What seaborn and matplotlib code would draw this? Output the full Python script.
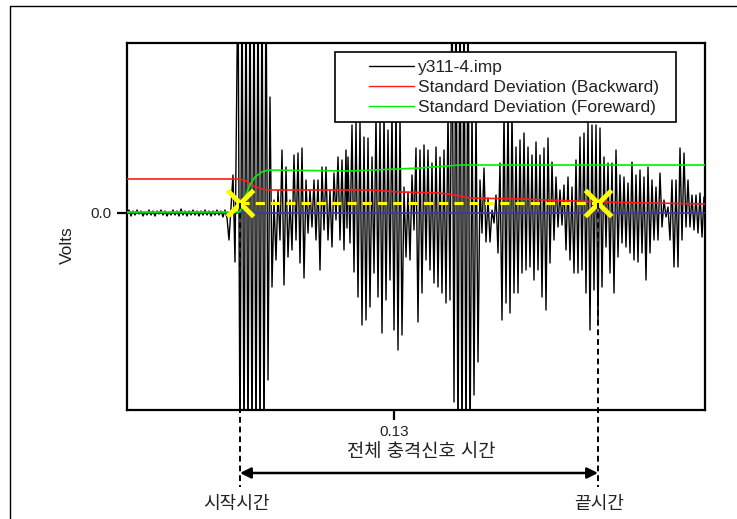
import matplotlib
matplotlib.use("Agg")
import numpy as np
import pandas as pd
import matplotlib.pyplot as plt
import seaborn as sns
from matplotlib.lines import Line2D
from matplotlib.patches import Rectangle

# ---------------- data ----------------
FS = 10000.0  # samples per second

signal_samples = [
    1033, 1035, 1037, 1039, 1041, 1043, 1045, 1047, 1049, 1051,
    1053, 1055, 1057, 1059, 1061, 1063, 1065, 1067, 1069, 1071,
    1073, 1075, 1077, 1079, 1081, 1083, 1085, 1087, 1089, 1091,
    1093, 1095, 1097, 1099, 1101, 1103, 1105, 1107, 1109, 1111,
    1113, 1115, 1117, 1119, 1121, 1123, 1125, 1127, 1129, 1131,
    1133,
    1135, 1137, 1139, 1141,
    1144, 1146, 1148, 1150, 1152, 1154, 1156, 1158, 1160, 1162,
    1164, 1166, 1168, 1170, 1172, 1174, 1176, 1178, 1180, 1182,
    1184, 1186, 1188, 1190, 1192, 1194, 1196, 1198, 1200, 1202,
    1204, 1206, 1208, 1210, 1212, 1214, 1216, 1218, 1220, 1222,
    1224, 1226, 1228, 1230, 1232, 1234, 1236, 1238, 1240, 1242,
    1244, 1246, 1248, 1250, 1252,
    1253,
    1254, 1256, 1258, 1260, 1262, 1264, 1266, 1268, 1270, 1272,
    1274, 1276, 1278, 1280, 1282, 1284, 1286, 1288, 1290, 1292,
    1294, 1296, 1298, 1300, 1302, 1304, 1306, 1308, 1310, 1312,
    1314, 1316, 1318, 1320, 1322, 1324, 1326, 1328, 1330, 1332,
    1334, 1336, 1338, 1340, 1342, 1344, 1346, 1348, 1350, 1352,
    1354, 1356, 1358, 1360, 1362, 1364, 1366, 1368, 1370, 1372,
    1374, 1376, 1378, 1380, 1382, 1384, 1386, 1388, 1390, 1392,
    1394, 1396, 1398, 1400, 1402, 1404, 1406, 1408, 1410, 1412,
    1414, 1416, 1418, 1420, 1422, 1424, 1426, 1428, 1430, 1432,
    1434, 1436, 1438, 1440, 1442, 1444, 1446, 1448, 1450, 1452,
    1454, 1456, 1458, 1460, 1462, 1464, 1466, 1468, 1470, 1472,
    1474, 1476, 1478, 1480, 1482, 1484, 1486, 1488, 1490, 1492,
    1494, 1496, 1498, 1500, 1502, 1504, 1506, 1508, 1510, 1512,
    1514, 1516, 1518, 1520, 1522, 1524, 1526, 1528, 1530, 1532,
    1534, 1536, 1538, 1540, 1542, 1544, 1546, 1548, 1550, 1552,
    1554, 1556, 1558, 1560, 1562, 1564, 1566, 1568, 1570, 1572,
    1574, 1576, 1578, 1580, 1582, 1584, 1586, 1588, 1590, 1592,
    1594, 1596, 1598, 1600, 1602, 1604, 1606, 1608, 1610,
    1611,
]

signal_volts = [
    0.00, 0.03, -0.03, 0.02, -0.02, 0.03, -0.01, 0.02, -0.03, 0.01,
    -0.02, 0.03, -0.02, 0.02, -0.03, 0.02, -0.01, 0.03, -0.02, 0.02,
    -0.03, 0.01, -0.02, 0.03, -0.02, 0.02, -0.03, 0.04, -0.02, 0.02,
    -0.03, 0.02, -0.02, 0.03, -0.02, 0.02, -0.03, 0.02, -0.02, 0.03,
    -0.02, 0.02, -0.03, 0.02, -0.02, 0.03, -0.02, 0.02, -0.04, 0.03,
    -0.05,
    -0.27, 0.05, 0.38, -0.49,
    2.5, -2.5, 2.5, -2.5, 2.5, -2.5, 2.5, -2.5, 2.5, -2.5,
    2.5, -2.5, 2.5, -2.5, 2.5, -1.67, 1.16, -0.74, 0.13, -0.47,
    0.23, -0.27, 0.63, -0.72, 0.46, -0.44, 0.13, -0.37, 0.58, -0.27,
    0.60, -0.50, 0.65, -0.65, 0.33, -0.20, 0.23, -0.14, 0.33, -0.27,
    0.33, -0.57, 0.46, -0.17, 0.46, -0.27, 0.23, -0.34, 0.40, -0.07,
    0.56, -0.27, 0.53, -0.37, 0.63,
    -0.15,
    0.56, -0.30, 0.88, -0.59, 0.91, -0.84, 0.93, -1.12, 0.76, -1.07,
    0.75, -0.94, 0.56, -0.60, 0.98, -0.84, 0.93, -1.20, 1.03, -0.87,
    0.83, -0.67, 1.03, -1.17, 1.13, -1.37, 0.98, -1.22, 0.26, -0.44,
    0.21, -0.47, 0.38, -0.17, 0.65, -1.09, 0.63, -0.80, 0.68, -0.47,
    0.63, -0.57, 0.50, -0.70, 0.66, -0.74, 0.56, -0.80, 0.63, -0.90,
    1.03, -0.87, 2.5, -1.89, 2.5, -2.5, 2.5, -2.5, 2.5, -2.5,
    2.5, -2.5, 1.13, -1.82, 1.08, -1.49, 0.33, -0.20, 0.45, -0.29,
    0.15, -0.29, 0.03, -0.10, 0.18, -0.40, 0.50, -1.07, 1.03, -0.90,
    1.08, -1.00, 1.03, -0.80, 0.66, -0.80, 0.73, -0.60, 0.80, -0.57,
    0.66, -0.54, 0.58, -0.67, 0.71, -0.57, 0.58, -0.84, 0.65, -0.97,
    0.75, -0.50, 0.51, -0.27, 0.36, -0.14, 0.23, -0.12, 0.28, -0.37,
    0.36, -0.47, 0.26, -0.60, 0.53, -0.60, 0.76, -0.57, 0.80, -0.80,
    0.91, -1.17, 0.88, -0.77, 0.88, -1.12, 0.85, -0.74, 0.56, -0.34,
    0.50, -0.60, 0.50, -0.80, 0.63, -0.44, 0.38, -0.30, 0.36, -0.34,
    0.30, -0.40, 0.51, -0.47, 0.38, -0.49, 0.43, -0.40, 0.36, -0.67,
    0.46, -0.40, 0.33, -0.27, 0.26, -0.27, 0.40, -0.14, 0.13, -0.04,
    0.06, -0.27, 0.33, -0.54, 0.33, -0.54, 0.65, -0.27, 0.60, -0.14,
    0.33, -0.14, 0.18, -0.17, 0.18, -0.20, 0.20, -0.24, 0.16,
    -0.05,
]

std_fwd_samples = [1033, 1146, 1151, 1156, 1161, 1168, 1174, 1256, 1326, 1366, 1611]
std_fwd_volts = [0.01, 0.01, 0.16, 0.28, 0.36, 0.41, 0.43, 0.42, 0.45, 0.48, 0.48]

std_bwd_samples = [1033, 1142, 1150, 1154, 1158, 1162, 1166, 1171, 1176, 1276, 1306,
                   1346, 1361, 1376, 1426, 1506, 1611]
std_bwd_volts = [0.34, 0.34, 0.33, 0.31, 0.28, 0.26, 0.245, 0.235, 0.23, 0.23, 0.21,
                 0.20, 0.18, 0.15, 0.14, 0.11, 0.09]

start_time = 0.1146
end_time = 0.1504
threshold_level = 0.10

legend_labels = ["y311-4.imp", "Standard Deviation (Backward)", "Standard Deviation (Foreward)"]
x_tick_values = [0.13]
x_tick_labels = ["0.13"]
y_tick_values = [0.0]
y_tick_labels = ["0.0"]

# ---------------- figure ----------------
sns.set_theme(style="white")
plt.rcParams["font.family"] = ["Liberation Sans", "Noto Sans CJK KR", "DejaVu Sans"]

fig = plt.figure(figsize=(7.37, 5.19), dpi=100)
ax = fig.add_axes([127 / 737, 1 - 410 / 519, 578 / 737, 367 / 519])

sig = pd.DataFrame({"t": np.array(signal_samples) / FS, "v": signal_volts})
fwd = pd.DataFrame({"t": np.array(std_fwd_samples) / FS, "v": std_fwd_volts})
bwd = pd.DataFrame({"t": np.array(std_bwd_samples) / FS, "v": std_bwd_volts})

sns.lineplot(data=sig, x="t", y="v", ax=ax, color="black", lw=1.0,
             estimator=None, sort=False, legend=False, zorder=2)
ax.axhline(0.0, color="#3a3aa8", lw=1.3, zorder=3)
sns.lineplot(data=bwd, x="t", y="v", ax=ax, color="#ff1a1a", lw=1.2,
             estimator=None, sort=False, legend=False, zorder=3)
sns.lineplot(data=fwd, x="t", y="v", ax=ax, color="#00f000", lw=1.2,
             estimator=None, sort=False, legend=False, zorder=3)

# threshold marker line and crosses
ax.plot([start_time, end_time], [threshold_level, threshold_level], color="#ffff00",
        lw=2.2, ls=(0, (3, 2)), zorder=4)
sns.scatterplot(x=[start_time, end_time], y=[threshold_level, threshold_level], ax=ax,
                marker="x", s=360, color="#ffff00", linewidth=3.5, zorder=5, legend=False)

ax.set_xlim(1033 / FS, 1611 / FS)
ax.set_ylim(-1.97, 1.70)
ax.set_xticks(x_tick_values)
ax.set_xticklabels(x_tick_labels, fontsize=11)
ax.set_yticks(y_tick_values)
ax.set_yticklabels(y_tick_labels, fontsize=11)
ax.tick_params(axis="both", direction="out", length=7, width=1.6, color="black",
               bottom=True, left=True, pad=4, labelcolor="#222222")
for s in ax.spines.values():
    s.set_color("black")
    s.set_linewidth(1.6)
ax.set_xlabel("")
ax.set_ylabel("Volts", fontsize=12.5, color="#222222")
ax.yaxis.set_label_coords(-0.090, 0.45)

# legend box
ax.add_patch(Rectangle((0.3599, 0.7847), 0.5899, 0.1908, transform=ax.transAxes,
                       facecolor="white", edgecolor="black", lw=1.2, zorder=8))
handles = [Line2D([], [], color="black", lw=1.0),
           Line2D([], [], color="#ff1a1a", lw=1.0),
           Line2D([], [], color="#00f000", lw=1.0)]
leg = ax.legend(handles, legend_labels, loc="upper left", bbox_to_anchor=(0.418, 0.953),
                frameon=False, fontsize=12.5, handlelength=2.6, handletextpad=0.25,
                labelspacing=0.26, borderpad=0.0, borderaxespad=0.0)
leg.set_zorder(9)
for txt in leg.get_texts():
    txt.set_color("#222222")

# annotation below axes
dash = (0, (3, 2))
for tv in (start_time, end_time):
    ax.plot([tv, tv], [threshold_level, -2.74], color="black", lw=1.4, ls=dash,
            clip_on=False, zorder=6)
ax.annotate("", xy=(start_time, -2.60), xytext=(end_time, -2.60),
            arrowprops=dict(arrowstyle="<|-|>", color="black", lw=1.8,
                            mutation_scale=16, shrinkA=0, shrinkB=0),
            annotation_clip=False)
ax.text(0.1327, -2.39, "전체 충격신호 시간", ha="center", va="center",
        fontsize=13.5, color="#222222", clip_on=False)
ax.text(0.1142, -2.92, "시작시간", ha="center", va="center", fontsize=13,
        color="#222222", clip_on=False)
ax.text(0.1505, -2.92, "끝시간", ha="center", va="center", fontsize=13,
        color="#222222", clip_on=False)

# outer frame of the page (left and top edges)
fig.add_artist(Line2D([10 / 737, 10 / 737], [0, 1 - 6 / 519], transform=fig.transFigure,
                      color="black", lw=1.0))
fig.add_artist(Line2D([10 / 737, 1], [1 - 6 / 519, 1 - 6 / 519], transform=fig.transFigure,
                      color="black", lw=1.0))

fig.savefig("out.png", dpi=100)
